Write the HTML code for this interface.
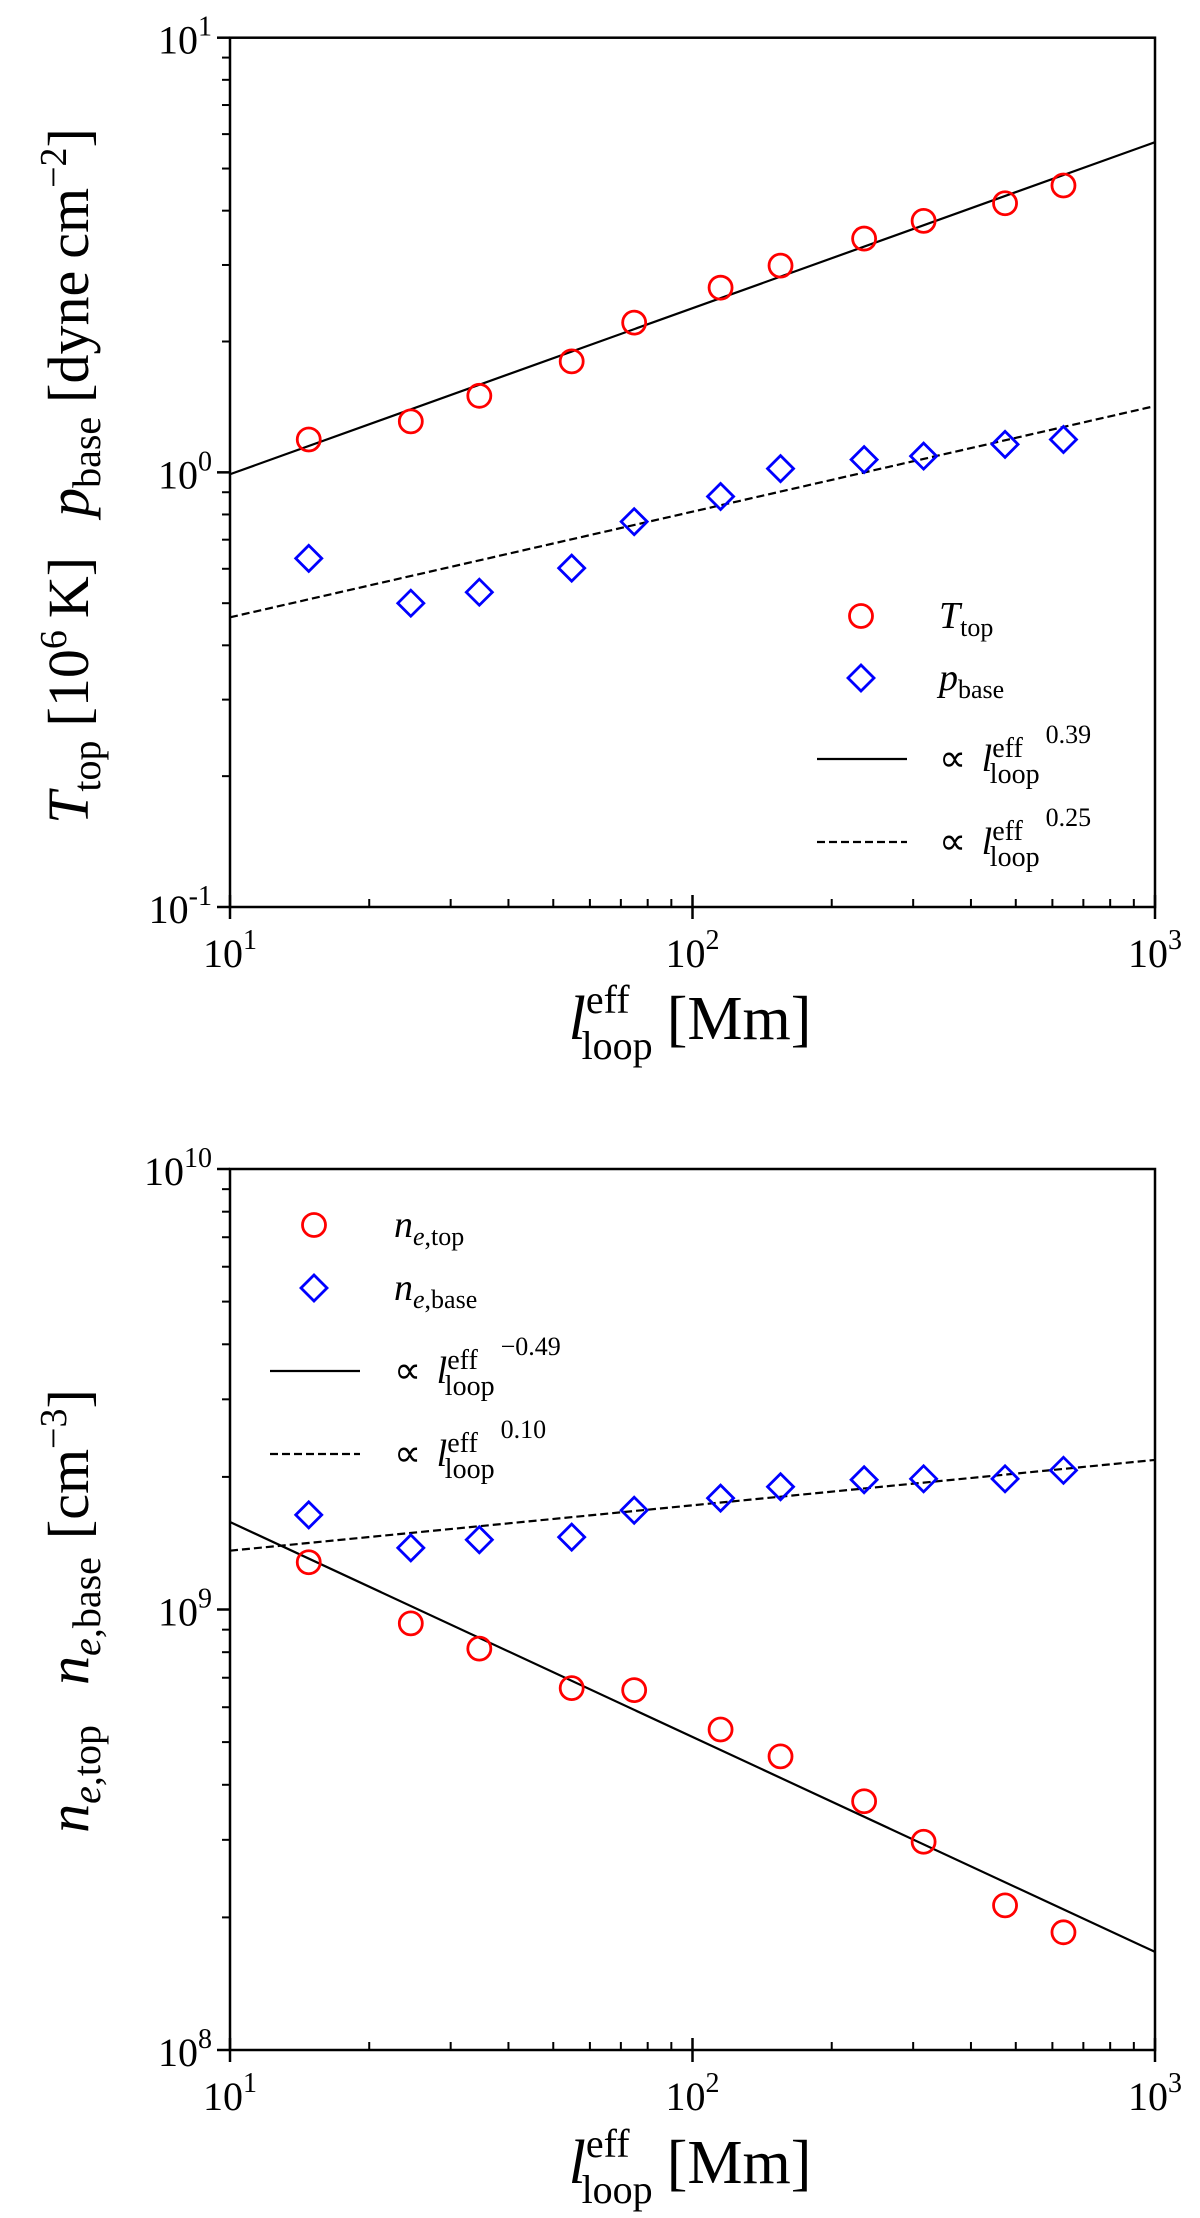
<!DOCTYPE html>
<html><head><meta charset="utf-8"><style>
html,body{margin:0;padding:0;background:#fff;}
svg{display:block;font-family:"Liberation Serif",serif;}
</style></head><body>
<svg id="fig" width="1200" height="2218" viewBox="0 0 1200 2218" xmlns="http://www.w3.org/2000/svg"></svg>
<script>
const xVals = [14.8, 24.6, 34.6, 54.8, 74.8, 115, 155, 235, 316, 474, 634];
const tTop = [1.19, 1.31, 1.50, 1.80, 2.21, 2.66, 2.99, 3.45, 3.79, 4.16, 4.57];
const pBase = [0.634, 0.50, 0.53, 0.602, 0.77, 0.88, 1.02, 1.07, 1.09, 1.16, 1.19];
const neTop = [1.28e9, 9.3e8, 8.15e8, 6.63e8, 6.56e8, 5.34e8, 4.64e8, 3.67e8, 2.97e8, 2.13e8, 1.85e8];
const neBase = [1.64e9, 1.38e9, 1.44e9, 1.46e9, 1.68e9, 1.79e9, 1.90e9, 1.97e9, 1.98e9, 1.98e9, 2.07e9];
const fitTopSolid = [0.99, 0.382];
const fitTopDashed = [0.464, 0.243];
const fitBotSolid = [1.58e9, -0.488];
const fitBotDashed = [1.36e9, 0.103];
const xTicks = [1, 2, 3];
const topYTicks = [-1, 0, 1];
const botYTicks = [8, 9, 10];

const NS = "http://www.w3.org/2000/svg";
const svg = document.getElementById('fig');
function mk(tag, attrs, parent){const e=document.createElementNS(NS,tag);for(const k in attrs)e.setAttribute(k,attrs[k]);(parent||svg).appendChild(e);return e;}

function panel(cfg){
  const g = mk('g',{});
  
  
  const L=230,R=1155,T=cfg.top,B=cfg.bottom;
  const xs = v => L + (Math.log10(v)-1)/2*(R-L);
  const ys = v => B - (Math.log10(v)-cfg.ymin)/2*(B-T);
  function fit(p, dash, nm){
    const l = mk('line',{x1:xs(10),y1:ys(p[0]),x2:xs(1000),y2:ys(p[0]*Math.pow(100,p[1])),stroke:'#000','stroke-width':2.2,'stroke-dasharray':dash||'none'},g);
    
    
  }
  fit(cfg.fitS,null,'fit-line-solid');
  fit(cfg.fitD,'8,4','fit-line-dashed');
  cfg.circ.forEach((v,i)=>{
    const c = mk('circle',{cx:xs(xVals[i]),cy:ys(v),r:11.5,fill:'none',stroke:'#ff0000','stroke-width':2.8},g);
    
    
  });
  cfg.diam.forEach((v,i)=>{
    const x=xs(xVals[i]),y=ys(v),h=13;
    const d = mk('polygon',{points:`${x},${y-h} ${x+h},${y} ${x},${y+h} ${x-h},${y}`,fill:'none',stroke:'#0000ff','stroke-width':2.8},g);
    
    
  });
  const box = mk('rect',{x:L,y:T,width:R-L,height:B-T,fill:'none',stroke:'#000','stroke-width':2.5},g);
  
  
  for(let d=1; d<3; d++){
    for(let m=2;m<10;m++){const x=xs(m*Math.pow(10,d));mk('line',{x1:x,y1:B,x2:x,y2:B-8,stroke:'#000','stroke-width':2},g);}
  }
  xTicks.forEach(e=>{
    const x=xs(Math.pow(10,e));
    mk('line',{x1:x,y1:B-12,x2:x,y2:B+12,stroke:'#000','stroke-width':2.5},g);
    const t=mk('text',{x:x,y:B+60,'font-size':40,'text-anchor':'middle',fill:'#000'},g);
    
    
    t.innerHTML = `10<tspan dy="-18" font-size="28">${e}</tspan>`;
  });
  for(let d=cfg.ymin; d<cfg.ymin+2; d++){
    for(let m=2;m<10;m++){const y=ys(m*Math.pow(10,d));mk('line',{x1:L,y1:y,x2:L-8,y2:y,stroke:'#000','stroke-width':2},g);}
  }
  cfg.yt.forEach(e=>{
    const y=ys(Math.pow(10,e));
    mk('line',{x1:L,y1:y,x2:L-13,y2:y,stroke:'#000','stroke-width':2.5},g);
    const t=mk('text',{x:L-18,y:y+16,'font-size':40,'text-anchor':'end',fill:'#000'},g);
    
    
    t.innerHTML = `10<tspan dy="-18" font-size="28">${e}</tspan>`;
  });
  const xl=mk('text',{x:690,y:cfg.xlabY,'font-size':62,'text-anchor':'middle',fill:'#000'},g);
  
  
  xl.innerHTML = `<tspan font-style="italic">l</tspan><tspan font-size="40" dy="-26">eff</tspan><tspan font-size="40" dx="-48" dy="46">loop</tspan><tspan dy="-20" dx="14">[Mm]</tspan>`;
  const yl=mk('text',{x:0,y:0,'font-size':58,'text-anchor':'middle',fill:'#000',transform:`translate(88,${cfg.ylabC}) rotate(-90)`},g);
  
  
  yl.innerHTML = cfg.ylab;
  const lg = mk('g',{},g);
  
  
  const lx = cfg.leg;
  mk('circle',{cx:lx.mx,cy:lx.rows[0],r:11.5,fill:'none',stroke:'#ff0000','stroke-width':2.8},lg);
  const h=13,dy=lx.rows[1];
  mk('polygon',{points:`${lx.mx},${dy-h} ${lx.mx+h},${dy} ${lx.mx},${dy+h} ${lx.mx-h},${dy}`,fill:'none',stroke:'#0000ff','stroke-width':2.8},lg);
  mk('line',{x1:lx.l1,y1:lx.rows[2],x2:lx.l2,y2:lx.rows[2],stroke:'#000','stroke-width':2.2},lg);
  mk('line',{x1:lx.l1,y1:lx.rows[3],x2:lx.l2,y2:lx.rows[3],stroke:'#000','stroke-width':2.2,'stroke-dasharray':'8,4'},lg);
  lx.labels.forEach((s,i)=>{
    const t=mk('text',{x:lx.tx,y:lx.rows[i]+12,'font-size':38,fill:'#000'},lg);
    
    
    t.innerHTML = s;
  });
}

const propLab = e => `∝ <tspan font-style="italic" dx="6">l</tspan><tspan font-size="28" dy="-14">eff</tspan><tspan font-size="28" dx="-33" dy="26">loop</tspan><tspan font-size="26" dx="6" dy="-40">${e}</tspan>`;

panel({name:'top-panel',top:37.7,bottom:907,ymin:-1,yt:topYTicks,
  circ:tTop,diam:pBase,fitS:fitTopSolid,fitD:fitTopDashed,xlabY:1039,ylabC:476,
  ylab:`<tspan font-style="italic">T</tspan><tspan font-size="40" dy="12">top</tspan><tspan dy="-12" dx="14">[10</tspan><tspan font-size="38" dy="-22">6</tspan><tspan dy="22" dx="12">K]</tspan><tspan font-style="italic" dx="40">p</tspan><tspan font-size="40" dy="12">base</tspan><tspan dy="-12" dx="14">[dyne</tspan><tspan dx="12">cm</tspan><tspan font-size="38" dy="-22">−2</tspan><tspan dy="22">]</tspan>`,
  leg:{mx:861,l1:817,l2:907,tx:939,rows:[616,678,759,842],
    labels:[`<tspan font-style="italic">T</tspan><tspan font-size="26" dy="8">top</tspan>`,
            `<tspan font-style="italic">p</tspan><tspan font-size="26" dy="8">base</tspan>`,
            propLab('0.39'),propLab('0.25')]}});

panel({name:'bottom-panel',top:1169,bottom:2050,ymin:8,yt:botYTicks,
  circ:neTop,diam:neBase,fitS:fitBotSolid,fitD:fitBotDashed,xlabY:2183,ylabC:1611,
  ylab:`<tspan font-style="italic">n</tspan><tspan font-size="40" dy="12"><tspan font-style="italic">e</tspan>,top</tspan><tspan font-style="italic" dy="-12" dx="40">n</tspan><tspan font-size="40" dy="12"><tspan font-style="italic">e</tspan>,base</tspan><tspan dy="-12" dx="18">[cm</tspan><tspan font-size="38" dy="-22">−3</tspan><tspan dy="22">]</tspan>`,
  leg:{mx:314,l1:270,l2:360,tx:394,rows:[1225,1288,1371,1454],
    labels:[`<tspan font-style="italic">n</tspan><tspan font-size="26" dy="8"><tspan font-style="italic">e</tspan>,top</tspan>`,
            `<tspan font-style="italic">n</tspan><tspan font-size="26" dy="8"><tspan font-style="italic">e</tspan>,base</tspan>`,
            propLab('−0.49'),propLab('0.10')]}});
</script>
</body></html>
